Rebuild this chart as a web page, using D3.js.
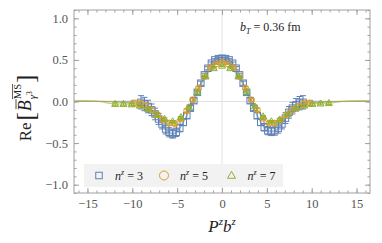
<!DOCTYPE html>
<html>
<head>
<meta charset="utf-8">
<script src="https://cdn.jsdelivr.net/npm/d3@7"></script>
<style>
  body { margin: 0; background: #fff; }
  svg { display: block; font-family: "Liberation Serif", "DejaVu Serif", serif; }
</style>
</head>
<body>
<svg width="382" height="243"></svg>
<script>
// P^z b^z positions and Re values
const pzbz3 = [-9.03,-8.64,-8.25,-7.85,-7.46,-7.07,-6.68,-6.28,-5.89,-5.50,-5.11,-4.71,-4.32,-3.93,-3.53,-3.14,-2.75,-2.36,-1.96,-1.57,-1.18,-0.79,-0.39,0,
  0.39,0.79,1.18,1.57,1.96,2.36,2.75,3.14,3.53,3.93,4.32,4.71,5.11,5.50,5.89,6.28,6.68,7.07,7.46,7.85,8.25,8.64,9.03];
const re3 = [-0.01,-0.03,-0.06,-0.10,-0.15,-0.21,-0.27,-0.33,-0.37,-0.39,-0.37,-0.32,-0.25,-0.17,-0.08,0.01,0.11,0.22,0.32,0.40,0.46,0.50,0.515,0.52,
  0.515,0.50,0.46,0.40,0.32,0.22,0.11,0.01,-0.08,-0.17,-0.25,-0.31,-0.35,-0.36,-0.35,-0.32,-0.27,-0.20,-0.13,-0.08,-0.04,-0.02,-0.01];
const err3 = [0.08,0.08,0.075,0.07,0.07,0.065,0.06,0.06,0.055,0.05,0.05,0.045,0.04,0.035,0.03,0.03,0.025,0.025,0.02,0.02,0.015,0.015,0.015,0.015,
  0.015,0.015,0.015,0.02,0.02,0.025,0.025,0.03,0.03,0.035,0.04,0.045,0.05,0.05,0.055,0.06,0.06,0.065,0.07,0.07,0.075,0.08,0.08];

const pzbz5 = [-9.82,-9.16,-8.51,-7.85,-7.20,-6.54,-5.89,-5.24,-4.58,-3.93,-3.27,-2.62,-1.96,-1.31,-0.65,0,
  0.65,1.31,1.96,2.62,3.27,3.93,4.58,5.24,5.89,6.54,7.20,7.85,8.51,9.16,9.82];
const re5 = [-0.02,-0.03,-0.05,-0.10,-0.16,-0.22,-0.26,-0.27,-0.21,-0.11,0.02,0.16,0.30,0.41,0.455,0.47,
  0.455,0.41,0.30,0.16,0.02,-0.10,-0.20,-0.26,-0.26,-0.22,-0.16,-0.10,-0.06,-0.03,-0.02];
const err5 = [0.035,0.035,0.03,0.03,0.03,0.025,0.025,0.02,0.02,0.02,0.015,0.015,0.012,0.01,0.01,0.01,
  0.01,0.01,0.012,0.015,0.015,0.02,0.02,0.02,0.025,0.025,0.03,0.03,0.03,0.035,0.035];

const pzbz7 = [-11.91,-10.99,-10.08,-9.16,-8.25,-7.33,-6.41,-5.50,-4.58,-3.67,-2.75,-1.83,-0.92,0,
  0.92,1.83,2.75,3.67,4.58,5.50,6.41,7.33,8.25,9.16,10.08,10.99,11.91];
const re7 = [-0.03,-0.03,-0.035,-0.05,-0.09,-0.15,-0.21,-0.24,-0.19,-0.07,0.11,0.30,0.40,0.43,
  0.40,0.30,0.12,-0.06,-0.18,-0.24,-0.22,-0.15,-0.08,-0.05,-0.03,-0.025,-0.02];
const err7 = [0.015,0.015,0.015,0.015,0.015,0.015,0.012,0.012,0.01,0.01,0.01,0.01,0.01,0.01,
  0.01,0.01,0.01,0.01,0.01,0.012,0.012,0.015,0.015,0.015,0.015,0.015,0.015];

// flat tails of the fit bands beyond the data
const tailX = [-16.5, -14, 14, 16.5];
const tailRe = [0.004, 0.003, 0.003, 0.004];

const xMajor = [-15, -10, -5, 0, 5, 10, 15];
const yMajor = [-1, -0.5, 0, 0.5, 1];
const nzLabels = ["3", "5", "7"];

const series = [
  { n: nzLabels[0], x: pzbz3, y: re3, e: err3, color: "#5e81b5", shape: "square" },
  { n: nzLabels[1], x: pzbz5, y: re5, e: err5, color: "#e19c24", shape: "circle" },
  { n: nzLabels[2], x: pzbz7, y: re7, e: err7, color: "#8fb032", shape: "triangle" }
];

const svg = d3.select("svg");
const x = d3.scaleLinear().domain([-16.5, 16.5]).range([74, 370]);
const y = d3.scaleLinear().domain([-1.1, 1.1]).range([193, 10]);
const frameColor = "#a0a0a0";
const serif = "'Liberation Serif', 'DejaVu Serif', serif";

// zero lines
svg.append("line").attr("x1", x(0)).attr("x2", x(0)).attr("y1", y(1.1)).attr("y2", y(-1.1))
  .attr("stroke", "#e2e2e2").attr("stroke-width", 1);
svg.append("line").attr("x1", x(-16.5)).attr("x2", x(16.5)).attr("y1", y(0)).attr("y2", y(0))
  .attr("stroke", "#e2e2e2").attr("stroke-width", 1);

// fit bands (thin, mostly hidden behind the points)
series.forEach(s => {
  const pts = s.x.map((v, i) => ({ x: v, y: s.y[i], e: s.e[i] * 0.35 }))
    .concat(tailX.map((v, i) => ({ x: v, y: tailRe[i], e: 0.005 })))
    .sort((a, b) => a.x - b.x);
  const area = d3.area().curve(d3.curveMonotoneX)
    .x(d => x(d.x)).y0(d => y(d.y - d.e)).y1(d => y(d.y + d.e));
  const line = d3.line().curve(d3.curveMonotoneX).x(d => x(d.x)).y(d => y(d.y));
  svg.append("path").attr("d", area(pts)).attr("fill", s.color).attr("opacity", 0.25);
  svg.append("path").attr("d", line(pts)).attr("fill", "none").attr("stroke", s.color)
    .attr("stroke-opacity", 0.45).attr("stroke-width", 1.2);
});

function marker(g, shape, cx, cy, size, color) {
  if (shape === "square") {
    g.append("rect").attr("x", cx - size / 2).attr("y", cy - size / 2).attr("width", size).attr("height", size)
      .attr("fill", "none").attr("stroke", color).attr("stroke-width", 1);
  } else if (shape === "circle") {
    g.append("circle").attr("cx", cx).attr("cy", cy).attr("r", size / 2)
      .attr("fill", "none").attr("stroke", color).attr("stroke-width", 1);
  } else {
    const h = size * 0.87;
    g.append("path").attr("d", `M${cx},${cy - h * 0.6}L${cx + size / 2},${cy + h * 0.4}L${cx - size / 2},${cy + h * 0.4}Z`)
      .attr("fill", "none").attr("stroke", color).attr("stroke-width", 1);
  }
}

// data points with error bars
const msize = { square: 6.5, circle: 6, triangle: 7 };
series.forEach(s => {
  const g = svg.append("g");
  s.x.forEach((v, i) => {
    const px = x(v), lo = y(s.y[i] - s.e[i]), hi = y(s.y[i] + s.e[i]);
    g.append("line").attr("x1", px).attr("x2", px).attr("y1", lo).attr("y2", hi)
      .attr("stroke", s.color).attr("stroke-width", 1);
    [lo, hi].forEach(yy => g.append("line").attr("x1", px - 3).attr("x2", px + 3).attr("y1", yy).attr("y2", yy)
      .attr("stroke", s.color).attr("stroke-width", 1));
    marker(g, s.shape, px, y(s.y[i]), msize[s.shape], s.color);
  });
});

// frame and ticks
svg.append("rect").attr("x", 74).attr("y", 10).attr("width", 296).attr("height", 183)
  .attr("fill", "none").attr("stroke", frameColor).attr("stroke-width", 1);

const xMinor = d3.range(-16, 17);
const yMinor = d3.range(-11, 12).map(i => i / 10);
function drawAxis(axisFn, scale, major, minor, tr, fmt) {
  const gm = svg.append("g").attr("transform", tr)
    .call(axisFn(scale).tickValues(minor).tickSizeInner(-2.5).tickSizeOuter(0).tickFormat(""));
  const gM = svg.append("g").attr("transform", tr)
    .call(axisFn(scale).tickValues(major).tickSizeInner(-5).tickSizeOuter(0).tickPadding(fmt ? 6 : 0).tickFormat(fmt || ""));
  [gm, gM].forEach(g => {
    g.attr("font-family", serif);
    g.select(".domain").remove();
    g.selectAll(".tick line").attr("stroke", frameColor);
    g.selectAll("text").attr("fill", "#555").attr("font-size", 12.5);
  });
}
drawAxis(d3.axisBottom, x, xMajor, xMinor, "translate(0,193)", d3.format("d"));
drawAxis(d3.axisTop, x, xMajor, xMinor, "translate(0,10)", null);
drawAxis(d3.axisLeft, y, yMajor, yMinor, "translate(74,0)", d3.format(".1f"));
drawAxis(d3.axisRight, y, yMajor, yMinor, "translate(370,0)", null);

// annotation
const ann = svg.append("text").attr("x", 240).attr("y", 31).attr("font-size", 12).attr("fill", "#222");
ann.append("tspan").attr("font-style", "italic").text("b");
ann.append("tspan").attr("font-style", "italic").attr("font-size", 8).attr("dy", 3).text("T");
ann.append("tspan").attr("dy", -3).text(" = 0.36 fm");

// legend
svg.append("rect").attr("x", 84).attr("y", 164).attr("width", 199).attr("height", 23).attr("fill", "#f2f2f2");
const legX = [99, 164, 231.5];
const legSize = { square: 6.5, circle: 9, triangle: 8 };
series.forEach((s, i) => {
  marker(svg, s.shape, legX[i], 175.5, legSize[s.shape], s.color);
  const t = svg.append("text").attr("x", legX[i] + 16).attr("y", 179.5).attr("font-size", 12).attr("fill", "#222");
  t.append("tspan").attr("font-style", "italic").text("n");
  t.append("tspan").attr("font-style", "italic").attr("font-size", 8).attr("dy", -5).text("z");
  t.append("tspan").attr("dy", 5).text(" = " + s.n);
});

// x label
const xl = svg.append("text").attr("x", 222).attr("y", 232).attr("text-anchor", "middle")
  .attr("font-size", 17).attr("fill", "#222").attr("font-style", "italic");
xl.append("tspan").text("P");
xl.append("tspan").attr("font-size", 11).attr("dy", -7).text("z");
xl.append("tspan").attr("dy", 7).text("b");
xl.append("tspan").attr("font-size", 11).attr("dy", -7).text("z");

// y label, built piece by piece in a rotated group
const yl = svg.append("g").attr("fill", "#222");
let u = 0;
function piece(txt, size, italic, v, advance) {
  const t = yl.append("text").attr("x", u).attr("y", v).attr("font-size", size)
    .attr("font-style", italic ? "italic" : "normal").text(txt);
  const w = t.node().getComputedTextLength();
  if (advance) u += w;
  return { t, x0: u - (advance ? w : 0), w };
}
piece("Re", 17, false, 0, true);
u += 2;
piece("[", 25, false, 3, true);
u += 1;
const b = piece("B", 18, true, 0, true);
yl.append("line").attr("x1", b.x0 + 2).attr("x2", b.x0 + b.w + 1).attr("y1", -15).attr("y2", -15)
  .attr("stroke", "#222").attr("stroke-width", 0.8);
const subStart = u + 1;
u = subStart;
const ms = piece("MS", 10.5, false, -10, false);
yl.append("line").attr("x1", subStart).attr("x2", subStart + ms.w).attr("y1", -18.5).attr("y2", -18.5)
  .attr("stroke", "#222").attr("stroke-width", 0.7);
piece("γ", 10.5, true, 5, true);
piece("3", 7.5, false, 1, true);
u = Math.max(u, subStart + ms.w) + 1;
piece("]", 25, false, 3, true);
yl.attr("transform", `translate(31,${108 + u / 2}) rotate(-90)`);
</script>
</body>
</html>
